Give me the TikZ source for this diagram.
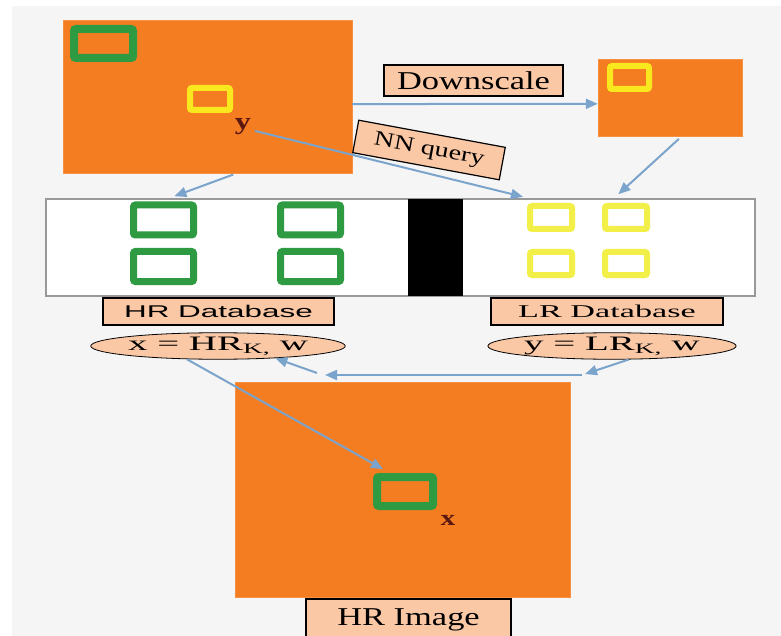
\documentclass[tikz,border=0pt]{standalone}
\usepackage{fontspec}
\setmainfont{Liberation Serif}
\setsansfont{Liberation Sans}
\newfontfamily\serifwide{Liberation Serif}[FakeStretch=1.34]
\newfontfamily\serifwider{Liberation Serif}[FakeStretch=1.9]
\newfontfamily\sanswider{Liberation Sans}[FakeStretch=1.85]
\usetikzlibrary{arrows.meta,shapes.geometric}
\definecolor{backdrop}{HTML}{F5F5F5}
\definecolor{imgorange}{HTML}{F47D22}
\definecolor{peach}{HTML}{FBC8A6}
\definecolor{hrgreen}{HTML}{2E9A42}
\definecolor{lryellow}{HTML}{F9E81E}
\definecolor{dbyellow}{HTML}{F2EF48}
\definecolor{flowblue}{HTML}{7BA4CC}
\definecolor{labelred}{HTML}{5A1810}
\tikzset{%
  photo/.style={fill=imgorange, draw=imgorange!85!white, inner sep=0pt},
  tag/.style={draw=black, line width=1.2pt, fill=peach, inner sep=0pt},
  patch/.style={draw=#1, line width=7pt, rounded corners=2pt},
  flow/.style={draw=flowblue, line width=2pt, -{Triangle[length=12pt,width=10pt]}},
  letter/.style={text=labelred, inner sep=0pt},
  oval/.style={ellipse, draw=black, line width=0.8pt, fill=peach, inner sep=0pt, minimum width=240pt}
}

\begin{document}
\begin{tikzpicture}[x=1pt, y=-1pt]
    \useasboundingbox (0,0) rectangle (781,636);
    \clip (0,0) rectangle (781,636);
    \fill [backdrop] (12,6) rectangle (781,636);

    \node (bigimg) [photo, minimum width=289pt, minimum height=153pt] at (207.5,96.5) {};
    \node (smallimg) [photo, minimum width=144pt, minimum height=77pt] at (670,97.5) {};
    \node (hrimg) [photo, minimum width=335pt, minimum height=215pt] at (402.5,489.5) {};
    \draw [patch=hrgreen, line width=8pt] (74,29) rectangle (133,58);
    \draw [patch=lryellow, line width=6pt] (190,88) rectangle (230,110);
    \draw [patch=lryellow, line width=6pt] (610,66) rectangle (649,89);
    \node (xpatch) [patch=hrgreen, line width=8pt, minimum width=56pt, minimum height=29pt] at (405,491.5) {};
    \node (ylab) [letter] at (243,127) {\serifwide\bfseries\fontsize{24}{24}\selectfont y};
    \node (xlab) [letter] at (448,520) {\serifwide\bfseries\fontsize{22}{22}\selectfont x};

    \node (down) [tag, minimum width=179pt, minimum height=31pt] at (473.5,80.5)
      {\serifwide\fontsize{25.7}{28}\selectfont Downscale};
    \node (query) [tag, rotate=-10.5, minimum width=149pt, minimum height=33pt] at (429,150)
      {\serifwide\fontsize{21}{22}\selectfont NN query};

    \node (db) [draw=gray!80, line width=1.5pt, fill=white, minimum width=709pt, minimum height=97pt] at (400.5,247.5) {};
    \fill [black] (408,199) rectangle (463,296);
    \foreach \x in {163.5,310.5}
      \foreach \y in {220,266.5}
        \draw [patch=hrgreen] (\x,\y) ++(-30,-15) rectangle ++(60,30);
    \foreach \x in {551,626}
      \foreach \y in {217.5,263.5}
        \draw [patch=dbyellow, line width=6pt] (\x,\y) ++(-21,-11.5) rectangle ++(42,23);

    \node (hrdb) [tag, minimum width=231pt, minimum height=27pt] at (218.5,311.5)
      {\sanswider\fontsize{17}{19}\selectfont HR Database};
    \node (lrdb) [tag, minimum width=232pt, minimum height=27pt] at (607,311.5)
      {\serifwider\fontsize{18}{20}\selectfont LR Database};
    \node (hrell) [oval, minimum height=26pt] at (218,346)
      {\serifwider\fontsize{20.5}{22}\selectfont x = HR\textsubscript{K,} w};
    \node (lrell) [oval, minimum height=24pt] at (612,346)
      {\serifwider\fontsize{20.5}{22}\selectfont y = LR\textsubscript{K,} w};
    \node (hrlabel) [tag, minimum width=205pt, minimum height=42pt] at (408.5,620)
      {\serifwide\fontsize{25.7}{28}\selectfont HR Image};

    \coordinate (jr) at (585,374);
    \coordinate (jl) at (325,375);

    \draw [flow] (bigimg.-3) -- (smallimg.185);
    \draw [flow, shorten <=4pt, shorten >=6pt] (bigimg.-69) -- (db.168);
    \draw [flow, shorten <=4pt, shorten >=6pt] (smallimg.-73) -- (db.13);
    \draw [flow, shorten <=4pt, shorten >=6pt] (ylab.-20) -- (db.21.6);
    \draw [flow] (lrell.-39) -- (jr);
    \draw [flow] (jr) ++(-3,1) -- (jl);
    \draw [flow] (jl) ++(-8,-2) -- (hrell.-12);
    \draw [flow, shorten >=8pt] (hrell.203) -- (xpatch.129);
\end{tikzpicture}
\end{document}
